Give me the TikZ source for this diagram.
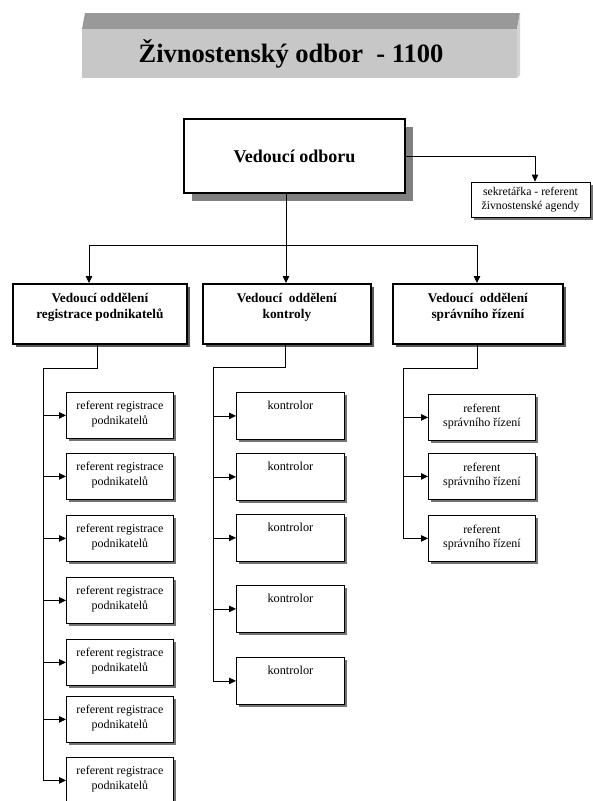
\documentclass[tikz,border=0pt]{standalone}
\usepackage{fontspec}
\setmainfont{Liberation Serif}
\usetikzlibrary{arrows.meta,shadows}

\tikzset{
 arr/.style={-{Triangle[length=7pt,width=6.5pt]}, line width=0.8pt},
 ln/.style={line width=0.8pt},
 headbox/.style={draw, fill=white, line width=2.2pt, minimum width=221pt, minimum height=74pt, inner sep=0pt,
   font=\fontsize{18}{20}\selectfont\bfseries,
   drop shadow={shadow xshift=8pt, shadow yshift=-8pt, fill=black!50, opacity=1}},
 secbox/.style={draw, fill=white, line width=0.8pt, minimum width=119pt, minimum height=35pt, inner sep=0pt, align=center,
   font=\fontsize{11.8}{14}\selectfont,
   drop shadow={shadow xshift=3pt, shadow yshift=-3pt, fill=black!55, opacity=1}},
 deptbox/.style={draw, fill=white, line width=1.8pt, inner sep=0pt, anchor=north west,
   drop shadow={shadow xshift=3pt, shadow yshift=-3pt, fill=black!65, opacity=1}},
 subbox/.style={draw, fill=white, line width=0.8pt, inner sep=0pt, anchor=north west,
   drop shadow={shadow xshift=2.5pt, shadow yshift=-2.5pt, fill=black!55, opacity=1}},
}

\newcommand\bxt[4]{\parbox[c][#2][t]{#1}{\centering\vspace*{#3}#4\par}}
\newcommand\deptfont{\fontsize{13.3}{16}\selectfont\bfseries}
\newcommand\regtext{\fontsize{12}{15}\selectfont referent registrace\\podnikatelů}
\newcommand\kontext{\fontsize{12.3}{15}\selectfont kontrolor}
\newcommand\sprtext{\fontsize{12}{14}\selectfont referent\\správního řízení}

\begin{document}
\begin{tikzpicture}[x=1pt,y=-1pt]
\useasboundingbox (0,0) rectangle (593,801);
\fill[white] (0,0) rectangle (593,801);

% title 3D box
\fill[black!40] (82,29) -- (517,29) -- (520,13) -- (85,13) -- cycle;
\fill[black!17] (517,29) -- (520,13) -- (520,75) -- (517,78) -- cycle;
\fill[black!22] (82,29) rectangle (517,78);
\node[anchor=base, inner sep=0pt, font=\fontsize{26.5}{30}\selectfont\bfseries] (title) at (291,62) {Živnostenský odbor\ \ - 1100};

% head
\node[headbox] (head) at (294.5,156) {Vedoucí odboru};
\node[secbox] (sec) at (530.5,199.5) {sekretářka - referent\\živnostenské agendy};
\draw[arr] (head.east) -| ([xshift=4.5pt]sec.north);

% departments
\node[deptbox] (d1) at (12,283) {\bxt{174pt}{60pt}{9.5pt}{\deptfont Vedoucí oddělení\\registrace podnikatelů}};
\node[deptbox] (d2) at (202,283) {\bxt{168pt}{60pt}{9.5pt}{\deptfont Vedoucí\ \ oddělení\\kontroly}};
\node[deptbox] (d3) at (392,283) {\bxt{170pt}{60pt}{9.5pt}{\deptfont Vedoucí\ \ oddělení\\správního řízení}};

% bus
\coordinate (bc) at (286,245);
\coordinate (bl) at (89,245);
\coordinate (br) at (477,245);
\draw[ln] (bc |- head.south) -- (bc);
\draw[ln] (bl) -- (br);
\draw[arr] (bl) -- (bl |- d1.north);
\draw[arr] (bc) -- (bc |- d2.north);
\draw[arr] (br) -- (br |- d3.north);

% column 1
\foreach \i/\t in {1/392,2/453,3/515,4/577,5/639,6/696,7/757}
  \node[subbox] (r\i) at (66,\t) {\bxt{107pt}{46pt}{8.4pt}{\regtext}};
\coordinate (t1a) at (97,368);
\coordinate (t1) at (43,368);
\draw[ln] (t1a |- d1.south) -- (t1a) -- (t1) -- (t1 |- r7.west);
\foreach \i in {1,...,7}
  \draw[arr] (t1 |- r\i.west) -- (r\i.west);

% column 2
\foreach \i/\t in {1/392,2/453,3/514,4/585,5/657}
  \node[subbox] (k\i) at (236,\t) {\bxt{108pt}{47pt}{8.1pt}{\kontext}};
\coordinate (t2a) at (285,367);
\coordinate (t2) at (213,367);
\draw[ln] (t2a |- d2.south) -- (t2a) -- (t2) -- (t2 |- k5.west);
\foreach \i in {1,...,5}
  \draw[arr] (t2 |- k\i.west) -- (k\i.west);

% column 3
\foreach \i/\t in {1/394,2/453,3/515}
  \node[subbox] (s\i) at (428,\t) {\bxt{107pt}{46pt}{9.3pt}{\sprtext}};
\coordinate (t3a) at (477,368);
\coordinate (t3) at (403,368);
\draw[ln] (t3a |- d3.south) -- (t3a) -- (t3) -- (t3 |- s3.west);
\foreach \i in {1,...,3}
  \draw[arr] (t3 |- s\i.west) -- (s\i.west);
\end{tikzpicture}
\end{document}
